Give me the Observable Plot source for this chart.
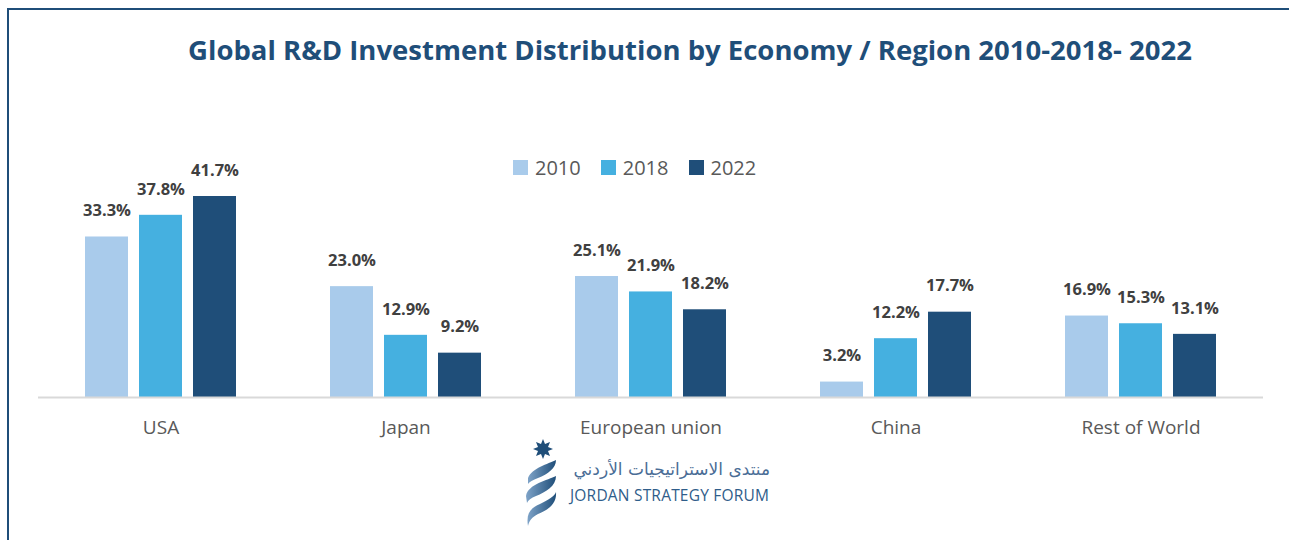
<!DOCTYPE html>
<html>
<head>
<meta charset="utf-8">
<script src="https://cdn.jsdelivr.net/npm/d3@7"></script>
<script src="https://cdn.jsdelivr.net/npm/@observablehq/plot@0.6"></script>
<style>
  html, body { margin: 0; padding: 0; background: #fff; }
  #wrap { position: relative; width: 1289px; height: 540px; overflow: hidden; font-family: "Open Sans", "Noto Sans", sans-serif; }
  #frame { position: absolute; left: 7px; top: 8px; width: 1300px; height: 600px; border-left: 2px solid #1f4e79; border-top: 2px solid #1f4e79; }
  #title { position: absolute; top: 31px; left: 0; width: 1380px; text-align: center; font-size: 27.5px; font-weight: 700; color: #1f4e79; white-space: nowrap; }
  #legend { position: absolute; top: 154px; left: 513px; display: flex; align-items: center; font-size: 20px; color: #595959; }
  #legend .item { display: flex; align-items: center; margin-right: 20px; }
  #legend .sw { width: 15px; height: 15px; margin-right: 7px; }
  #chart { position: absolute; left: 0; top: 0; }
  #logo { position: absolute; left: 520px; top: 438px; }
  #ar { position: absolute; left: 570px; top: 459px; width: 200px; text-align: right; font-size: 17px; color: #4a6d96; direction: rtl; font-family: "DejaVu Sans", sans-serif; }
  #en { position: absolute; left: 570px; top: 484px; font-size: 15.5px; color: #2f5d8a; letter-spacing: 0.2px; }
</style>
</head>
<body>
<div id="wrap">
  <div id="frame"></div>
  <div id="chart"></div>
  <div id="title">Global R&amp;D Investment Distribution by Economy / Region 2010-2018- 2022</div>
  <div id="legend"></div>
  <svg id="logo" width="45" height="92" viewBox="0 0 45 92">
    <defs>
      <linearGradient id="g" x1="0" x2="1" y1="0" y2="0">
        <stop offset="0" stop-color="#7ea3c8"/>
        <stop offset="1" stop-color="#1f4e79"/>
      </linearGradient>
    </defs>
    <polygon fill="#1f4e79" points="23,1 25,6 30,4 28,9 33,11 28,13 30,18 25,16 23,21 21,16 16,18 18,13 13,11 18,9 16,4 21,6"/>
    <path fill="url(#g)" d="M8,40 C12,30 28,26 36,22 C36,30 28,36 18,40 C13,42 9,44 8,46 Z"/>
    <path fill="url(#g)" d="M6,58 C8,46 28,42 36,38 C36,48 26,54 16,58 C11,60 8,62 7,65 Z"/>
    <path fill="url(#g)" d="M8,88 C6,76 10,70 20,66 C28,62 35,58 36,54 C37,66 28,72 18,76 C12,79 9,83 8,88 Z"/>
  </svg>
  <div id="ar">منتدى الاستراتيجيات الأردني</div>
  <div id="en">JORDAN STRATEGY FORUM</div>
</div>
<script>
const regions = ["USA", "Japan", "European union", "China", "Rest of World"];
const years = ["2010", "2018", "2022"];
const values2010 = [33.3, 23.0, 25.1, 3.2, 16.9];
const values2018 = [37.8, 12.9, 21.9, 12.2, 15.3];
const values2022 = [41.7, 9.2, 18.2, 17.7, 13.1];
const colors = ["#a9cbeb", "#45b0e0", "#1f4e79"];

const series = [values2010, values2018, values2022];
const data = [];
regions.forEach((r, i) => {
  years.forEach((y, j) => data.push({region: r, year: y, value: series[j][i]}));
});

// legend
const legend = document.getElementById("legend");
years.forEach((y, j) => {
  const it = document.createElement("div");
  it.className = "item";
  it.innerHTML = `<span class="sw" style="background:${colors[j]}"></span><span>${y}</span>`;
  legend.appendChild(it);
});

const chart = Plot.plot({
  width: 1289,
  height: 540,
  marginTop: 156,
  marginBottom: 143,
  marginLeft: 37,
  marginRight: 26,
  style: {fontFamily: "'Open Sans', 'Noto Sans', sans-serif", background: "transparent", overflow: "visible"},
  fx: {domain: regions, padding: 0, label: null, axis: "bottom", tickSize: 0, tickPadding: 23},
  x: {domain: years, axis: null, paddingInner: 0.2, paddingOuter: 0.85},
  y: {domain: [0, 50], axis: null},
  color: {domain: years, range: colors},
  marks: [
    Plot.barY(data, {fx: "region", x: "year", y: "value", fill: "year"}),
    Plot.ruleY([0], {stroke: "#d9d9d9", strokeWidth: 2}),
    Plot.text(data, {fx: "region", x: "year", y: "value", text: d => d.value.toFixed(1) + "%", dy: -26, fontWeight: "bold", fontSize: 16.5, fill: "#404040"})
  ]
});
chart.querySelectorAll("[aria-label='fx-axis tick label'] text, [aria-label='fx-axis'] text").forEach(t => {
  t.setAttribute("font-size", "19");
  t.setAttribute("fill", "#595959");
});
document.getElementById("chart").appendChild(chart);
</script>
</body>
</html>
